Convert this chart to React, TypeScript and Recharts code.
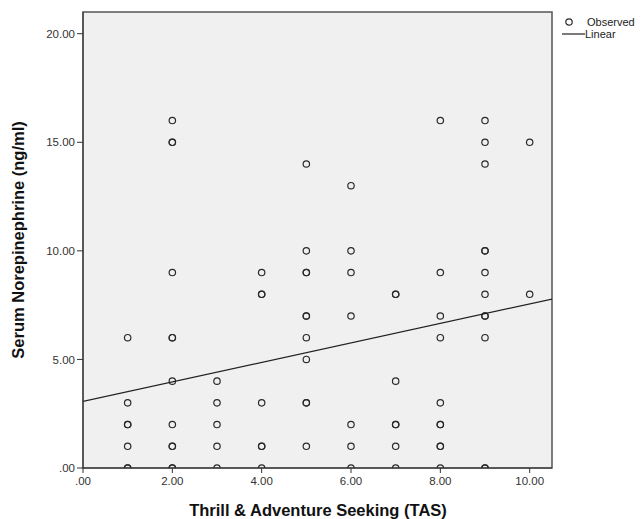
import { ScatterChart, Scatter, XAxis, YAxis, ReferenceArea, Label } from 'recharts';

// observed cases (duplicates kept so overlapping circles look darker, as in SPSS)
const tas = [
  1, 1, 1, 1, 1, 1, 1,
  2, 2, 2, 2, 2, 2, 2, 2, 2, 2, 2, 2,
  3, 3, 3, 3, 3,
  4, 4, 4, 4, 4, 4, 4,
  5, 5, 5, 5, 5, 5, 5, 5, 5, 5, 5,
  6, 6, 6, 6, 6, 6, 6,
  7, 7, 7, 7, 7, 7, 7,
  8, 8, 8, 8, 8, 8, 8, 8, 8, 8,
  9, 9, 9, 9, 9, 9, 9, 9, 9, 9, 9, 9,
  10, 10,
];
const norepinephrine = [
  6, 3, 2, 2, 1, 0, 0,
  16, 15, 15, 9, 6, 6, 4, 2, 1, 1, 0, 0,
  4, 3, 2, 1, 0,
  9, 8, 8, 3, 1, 1, 0,
  14, 10, 9, 9, 7, 7, 6, 5, 3, 3, 1,
  13, 10, 9, 7, 2, 1, 0,
  8, 8, 4, 2, 2, 1, 0,
  16, 9, 7, 6, 3, 2, 2, 1, 1, 0,
  16, 15, 14, 10, 10, 9, 8, 7, 7, 6, 0, 0,
  15, 8,
];

// linear fit line at the plot edges
const fitX = [0, 10.5];
const fitY = [3.07, 7.78];

const xTicks = [0, 2, 4, 6, 8, 10];
const yTicks = [0, 5, 10, 15, 20];

const observed = tas.map((x, i) => ({ x, y: norepinephrine[i] }));
const fit = fitX.map((x, i) => ({ x, y: fitY[i] }));

const FONT = '"Liberation Sans", Arial, sans-serif';
const fmt = (v: number) => v.toFixed(2).replace(/^0/, '');

const Ring = (props: any) => (
  <circle cx={props.cx} cy={props.cy} r={3.2} fill="none" stroke="#2a2a2a" strokeWidth={1.2} />
);

function LegendBox() {
  return (
    <svg width={80} height={30} style={{ position: 'absolute', left: 560, top: 10, fontFamily: FONT }}>
      <circle cx={9} cy={12} r={3.2} fill="none" stroke="#2a2a2a" strokeWidth={1.2} />
      <text x={27} y={12} fontSize={11} fill="#222" dominantBaseline="central">Observed</text>
      <line x1={2} x2={25} y1={24} y2={24} stroke="#222" strokeWidth={1.2} />
      <text x={25} y={24} fontSize={11} fill="#222" dominantBaseline="central">Linear</text>
    </svg>
  );
}

export default function App() {
  return (
    <div style={{ position: 'absolute', left: 0, top: 0, width: 641, height: 519, background: '#fff', fontFamily: FONT }}>
      <ScatterChart width={641} height={519} margin={{ top: 12, right: 89, bottom: 0, left: 0 }}>
        <XAxis
          type="number"
          dataKey="x"
          domain={[0, 10.5]}
          ticks={xTicks}
          tickFormatter={fmt}
          allowDataOverflow
          height={51}
          tickSize={5}
          tickMargin={4}
          stroke="#333"
          tick={{ fontSize: 11.5, fill: '#333', fontFamily: FONT }}
        >
          <Label
            content={() => (
              <text x={318} y={510} textAnchor="middle" dominantBaseline="central" fontSize={16.5} fontWeight="bold" fill="#111" fontFamily={FONT}>
                Thrill &amp; Adventure Seeking (TAS)
              </text>
            )}
          />
        </XAxis>
        <YAxis
          type="number"
          dataKey="y"
          domain={[0, 21]}
          ticks={yTicks}
          tickFormatter={fmt}
          allowDataOverflow
          width={83}
          tickSize={6}
          tickMargin={2}
          stroke="#333"
          tick={{ fontSize: 11.5, fill: '#333', fontFamily: FONT }}
        >
          <Label
            content={() => (
              <text x={18} y={240} transform="rotate(-90 18 240)" textAnchor="middle" dominantBaseline="central" fontSize={16.5} fontWeight="bold" fill="#111" fontFamily={FONT}>
                Serum Norepinephrine (ng/ml)
              </text>
            )}
          />
        </YAxis>
        <ReferenceArea x1={0} x2={10.5} y1={0} y2={21} fill="#f0f0f0" fillOpacity={1} stroke="#555" strokeWidth={1.5} />
        <Scatter data={observed} shape={Ring} isAnimationActive={false} />
        <Scatter data={fit} line={{ stroke: '#222', strokeWidth: 1.2 }} lineType="joint" shape={() => null} isAnimationActive={false} />
      </ScatterChart>
      <LegendBox />
    </div>
  );
}
